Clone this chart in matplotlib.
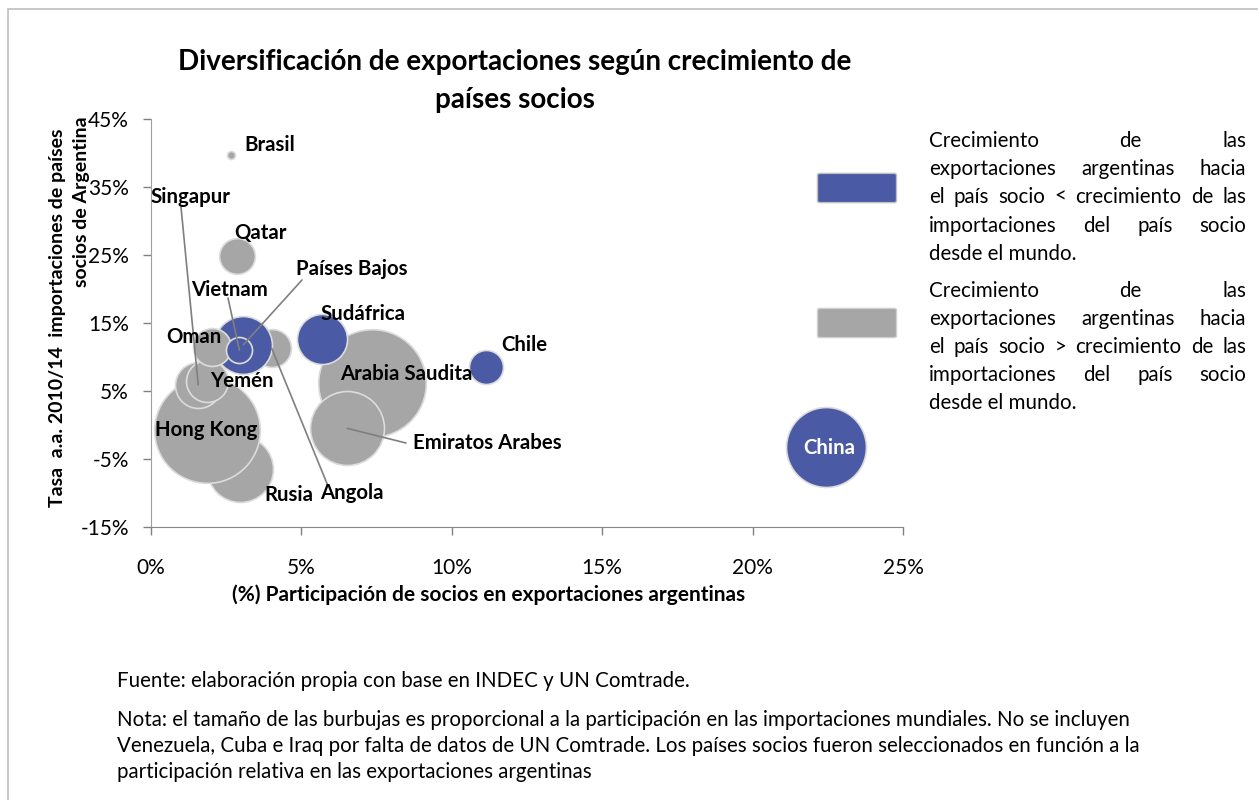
import matplotlib
matplotlib.use('Agg')
import matplotlib.pyplot as plt
from matplotlib.patches import Rectangle, FancyBboxPatch
from matplotlib.ticker import FuncFormatter

plt.rcParams['font.family'] = ['Lato', 'DejaVu Sans']

W, H = 1258, 800

# datos: participacion en exportaciones argentinas (%), tasa a.a. 2010/14 (%), peso burbuja
paises = ['Rusia', 'Hong Kong', 'Singapur', 'Yemén', 'Angola', 'Países Bajos', 'Oman', 'Vietnam',
          'Arabia Saudita', 'Emiratos Arabes', 'Sudáfrica', 'Qatar', 'Brasil', 'Chile', 'China']
participacion = [2.96, 1.85, 1.57, 1.85, 4.01, 3.07, 2.02, 2.94, 7.36, 6.53, 5.69, 2.87, 2.65, 11.14, 22.45]
tasa = [-6.4, -0.7, 5.9, 6.5, 11.3, 11.8, 11.4, 11.0, 6.2, -0.5, 12.6, 24.9, 39.7, 8.5, -3.3]
peso = [10.9, 28.0, 5.3, 4.4, 3.6, 8.4, 3.6, 1.7, 29.0, 13.7, 6.3, 3.2, 0.16, 2.9, 16.0]
grupo = ['>', '>', '>', '>', '>', '<', '>', '<', '>', '>', '<', '>', '>', '<', '<']

azul = '#4B5AA5'
gris = '#A6A6A6'


def fx(px):
    return px / W


def fy(py):
    return 1 - py / H


fig = plt.figure(figsize=(12.58, 8), dpi=100)
fig.patches.append(Rectangle((fx(7.5), -0.1), 1.2, fy(9) + 0.1, transform=fig.transFigure,
                             fill=False, edgecolor='#BFBFBF', lw=1.2))

ax = fig.add_axes([fx(151), fy(527), 752 / W, 408 / H])
ax.set_xlim(0, 25)
ax.set_ylim(-15, 45)
ax.set_xticks([0, 5, 10, 15, 20, 25])
ax.set_yticks([-15, -5, 5, 15, 25, 35, 45])
fmt = FuncFormatter(lambda v, p: '%d%%' % v)
ax.xaxis.set_major_formatter(fmt)
ax.yaxis.set_major_formatter(fmt)
ax.tick_params(axis='both', labelsize=15, colors='#808080', labelcolor='black', length=6, width=1)
ax.tick_params(axis='x', pad=16)
ax.tick_params(axis='y', pad=10)
for s in ['top', 'right']:
    ax.spines[s].set_visible(False)
ax.spines['bottom'].set_color('#868686')
ax.spines['left'].set_color('#A0A0A0')
ax.spines['left'].set_linestyle((0, (2, 1)))
ax.patch.set_alpha(0)

for i in range(len(paises)):
    c = azul if grupo[i] == '<' else gris
    ax.scatter(participacion[i], tasa[i], s=peso[i] * 207, color=c, edgecolor='#DCDCDC',
               linewidth=1.2, zorder=2 + i * 0.01, clip_on=False)

# etiquetas (centro en pixeles de la imagen)
etiquetas = {
    'Brasil': (270, 145), 'Singapur': (190, 197), 'Qatar': (260, 233), 'Países Bajos': (352, 269),
    'Vietnam': (229, 290), 'Oman': (194, 337), 'Sudáfrica': (363, 314), 'Chile': (524, 345),
    'Yemén': (242, 381), 'Arabia Saudita': (406, 374), 'Hong Kong': (206, 430),
    'Emiratos Arabes': (487, 443), 'Rusia': (289, 495), 'Angola': (352, 493), 'China': (829, 448),
}
for nombre, (px, py) in etiquetas.items():
    fig.text(fx(px), fy(py), nombre, ha='center', va='center', fontsize=14.7, fontweight='bold',
             color='white' if nombre == 'China' else 'black', zorder=5)

guias = {'Singapur': (181, 207), 'Vietnam': (228, 298), 'Países Bajos': (302, 280),
         'Angola': (328, 486), 'Emiratos Arabes': (406, 443)}
for nombre, (px, py) in guias.items():
    i = paises.index(nombre)
    ax.annotate('', xy=(participacion[i], tasa[i]), xycoords='data',
                xytext=(px, H - py), textcoords='figure pixels',
                arrowprops=dict(arrowstyle='-', color='#7F7F7F', lw=1.2, shrinkA=0, shrinkB=0),
                zorder=4)

fig.text(fx(515), fy(81), 'Diversificación de exportaciones según crecimiento de\npaíses socios',
         ha='center', va='center', fontsize=20, fontweight='bold', linespacing=1.55)
fig.text(fx(58), fy(318), 'Tasa  a.a. 2010/14  importaciones de países', rotation=90,
         ha='center', va='center', fontsize=14, fontweight='bold')
fig.text(fx(82), fy(116), 'socios de Argentina', rotation=90,
         ha='center', va='top', fontsize=14, fontweight='bold')
fig.text(fx(489), fy(595), '(%) Participación de socios en exportaciones argentinas',
         ha='center', va='center', fontsize=15, fontweight='bold')

# leyenda
fig.patches.append(FancyBboxPatch((fx(820), fy(201)), fx(74), 26 / H, transform=fig.transFigure,
                                  boxstyle='round,pad=0.002', facecolor=azul, edgecolor='#BFBFBF', lw=1))
fig.patches.append(FancyBboxPatch((fx(820), fy(336)), fx(74), 26 / H, transform=fig.transFigure,
                                  boxstyle='round,pad=0.002', facecolor=gris, edgecolor='#D0D0D0', lw=1))

renderer = fig.canvas.get_renderer()
tam_ley = 14.8


def ancho(palabra):
    t = fig.text(0, 0, palabra, fontsize=tam_ley)
    w = t.get_window_extent(renderer).width
    t.remove()
    return w


def justificar(lineas, x0, x1, ys):
    for k, (linea, py) in enumerate(zip(lineas, ys)):
        palabras = linea.split()
        if k == len(lineas) - 1 or len(palabras) == 1:
            fig.text(fx(x0), fy(py), linea, fontsize=tam_ley, ha='left', va='center')
            continue
        anchos = [ancho(p) for p in palabras]
        hueco = (x1 - x0 - sum(anchos)) / (len(palabras) - 1)
        x = x0
        for p, w in zip(palabras, anchos):
            fig.text(fx(x), fy(py), p, fontsize=tam_ley, ha='left', va='center')
            x += w + hueco


ley1 = ['Crecimiento de las', 'exportaciones argentinas hacia', 'el país socio < crecimiento de las',
        'importaciones del país socio', 'desde el mundo.']
ley2 = ['Crecimiento de las', 'exportaciones argentinas hacia', 'el país socio > crecimiento de las',
        'importaciones del país socio', 'desde el mundo.']
justificar(ley1, 929, 1246, [141, 169, 197, 226, 254])
justificar(ley2, 929, 1246, [291, 319, 347, 375, 403])

fig.text(fx(117), fy(681), 'Fuente: elaboración propia con base en INDEC y UN Comtrade.',
         fontsize=14.8, ha='left', va='center')
nota = ['Nota: el tamaño de las burbujas es proporcional a la participación en las importaciones mundiales. No se incluyen',
        'Venezuela, Cuba e Iraq por falta de datos de UN Comtrade. Los países socios fueron seleccionados en función a la',
        'participación relativa en las exportaciones argentinas']
for linea, py in zip(nota, [720, 746, 772]):
    fig.text(fx(117), fy(py), linea, fontsize=14.8, ha='left', va='center')

fig.savefig('out.png', dpi=100)
